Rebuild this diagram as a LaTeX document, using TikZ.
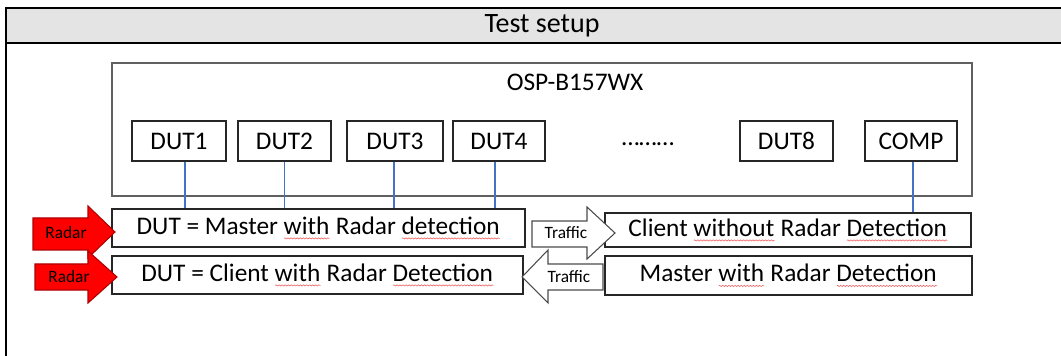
\documentclass[tikz,border=0pt]{standalone}
\usepackage{fontspec}
\setmainfont{Carlito}
\usetikzlibrary{decorations.pathmorphing}
\definecolor{hdr}{HTML}{E4E4E4}
\definecolor{wire}{HTML}{4472C4}
\definecolor{radarfill}{HTML}{FF0000}
\definecolor{radarline}{HTML}{B00000}
\definecolor{spellc}{HTML}{F06060}
\definecolor{ospline}{HTML}{606060}
\newlength\splw
\newcommand\spl[1]{\setbox0\hbox{#1}\setlength\splw{\wd0}\rlap{\box0}\raisebox{-0.2em}{\tikz\draw[spellc,line width=0.45pt,decorate,decoration={snake,amplitude=0.45pt,segment length=2.3pt}] (0,0) -- (\splw,0);}}
\begin{document}
\begin{tikzpicture}[x=0.75pt,y=-0.75pt,
  bigtext/.style={font=\fontsize{19}{22}\selectfont},
  titletext/.style={font=\fontsize{21}{24}\selectfont},
  smalltext/.style={font=\fontsize{13}{15}\selectfont},
  box/.style={draw=black!85, line width=0.8pt, inner sep=0pt, bigtext},
  dutbox/.style={box, minimum height=30pt},
  wireline/.style={draw=wire, line width=0.8pt},
  radarshape/.style={fill=radarfill, draw=radarline, line width=0.8pt},
  trafficshape/.style={fill=white, draw=black!70, line width=0.8pt},
]
\useasboundingbox (0,0) rectangle (1061,356);
% header
\fill[hdr] (7,9) rectangle (1061,43);
\draw[line width=1.6pt] (6,8) -- (1061,8);
\draw[line width=1.6pt] (6,7.5) -- (6,356);
\draw[line width=0.8pt] (6,43) -- (1061,43);
\draw[line width=1.8pt] (6,43) -- (21,43);
\draw[line width=1.8pt] (1007,43) -- (1061,43);
\node[titletext] (title) at (542,26) {Test setup};
% OSP box
\node[draw=ospline, line width=1pt, minimum width=645pt, minimum height=99.75pt] (osp) at (542,129.5) {};
\node[bigtext] (osplabel) at (575,82) {OSP-B157WX};
\node[dutbox, minimum width=70.5pt] (dut1) at (179,141) {DUT1};
\node[dutbox, minimum width=69.75pt] (dut2) at (284.5,141) {DUT2};
\node[dutbox, minimum width=72pt] (dut3) at (395,141) {DUT3};
\node[dutbox, minimum width=69pt] (dut4) at (499,141) {DUT4};
\node[bigtext] (dots) at (648,144) {………};
\node[dutbox, minimum width=69.75pt] (dut8) at (786.5,141) {DUT8};
\node[dutbox, minimum width=69pt] (comp) at (911,141) {COMP};
% rows
\node[box, minimum width=309.75pt, minimum height=28.5pt] (m1) at (318.5,228) {DUT = Master \spl{with} Radar \spl{detection}};
\node[box, minimum width=308.25pt, minimum height=28.5pt] (c2) at (317.5,275) {DUT = Client \spl{with} Radar \spl{Detection}};
\node[box, minimum width=274.5pt, minimum height=25.5pt] (cl) at (788,230) {Client \spl{without} Radar \spl{Detection}};
\node[box, minimum width=275.25pt, minimum height=29.25pt] (ms) at (788.5,275.5) {Master \spl{with} Radar \spl{Detection}};
% wires
\draw[wireline] ([xshift=4.5pt]dut1.south) -- ([xshift=4.5pt]dut1.south |- m1.north);
\draw[wireline] (dut2.south) -- (dut2.south |- m1.north);
\draw[wireline] ([xshift=-0.75pt]dut3.south) -- ([xshift=-0.75pt]dut3.south |- m1.north);
\draw[wireline] ([xshift=-3pt]dut4.south) -- ([xshift=-3pt]dut4.south |- m1.north);
\draw[wireline] ([xshift=1.5pt]comp.south) -- ([xshift=1.5pt]comp.south |- cl.north);
% radar arrows
\draw[radarshape] (33,218) -- (88,218) -- (88,206) -- (115,232) -- (88,258) -- (88,250) -- (33,250) -- cycle;
\node[smalltext] (radar1) at (66,233) {Radar};
\draw[radarshape] (35,264) -- (88,264) -- (88,251) -- (117,277) -- (88,303) -- (88,290) -- (35,290) -- cycle;
\node[smalltext] (radar2) at (69,277) {Radar};
% traffic arrows
\draw[trafficshape] (532,221) -- (587,221) -- (587,207) -- (615,233) -- (587,259) -- (587,247) -- (532,247) -- cycle;
\node[smalltext] (traffic1) at (566,233) {Traffic};
\draw[trafficshape] (603,264) -- (548,264) -- (548,250) -- (522,277) -- (548,303) -- (548,290) -- (603,290) -- cycle;
\node[smalltext] (traffic2) at (569,277) {Traffic};
\end{tikzpicture}
\end{document}
